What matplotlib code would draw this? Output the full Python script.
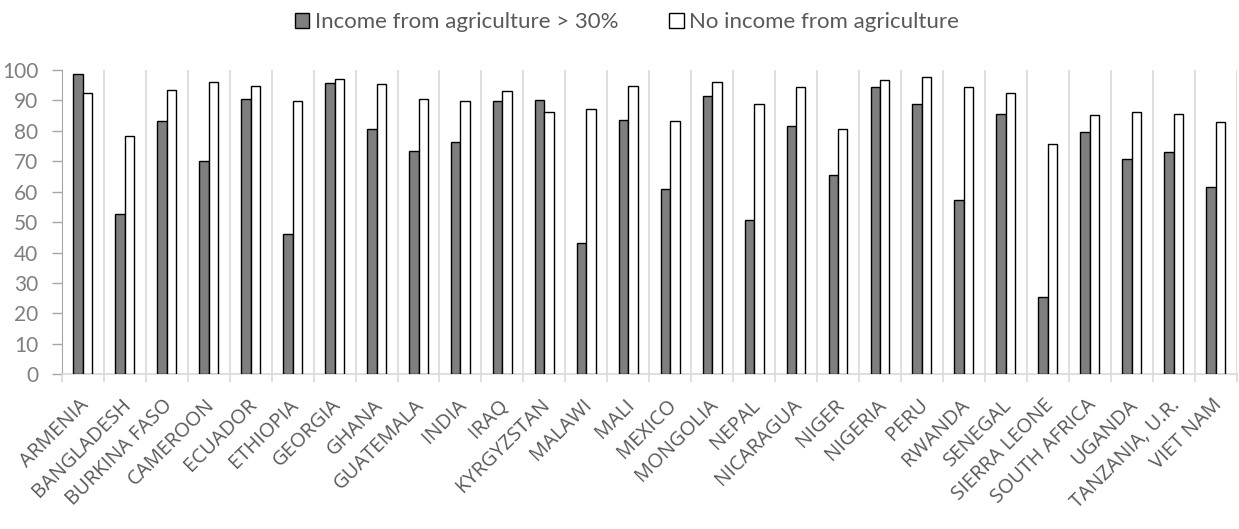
import numpy as np
import matplotlib
matplotlib.use('Agg')
import matplotlib.pyplot as plt
import matplotlib.transforms as mtransforms

plt.rcParams['font.family'] = ['Lato', 'DejaVu Sans']

countries = ['ARMENIA', 'BANGLADESH', 'BURKINA FASO', 'CAMEROON', 'ECUADOR', 'ETHIOPIA',
             'GEORGIA', 'GHANA', 'GUATEMALA', 'INDIA', 'IRAQ', 'KYRGYZSTAN', 'MALAWI',
             'MALI', 'MEXICO', 'MONGOLIA', 'NEPAL', 'NICARAGUA', 'NIGER', 'NIGERIA',
             'PERU', 'RWANDA', 'SENEGAL', 'SIERRA LEONE', 'SOUTH AFRICA', 'UGANDA',
             'TANZANIA, U.R.', 'VIET NAM']
agri_income = [98.7, 52.6, 83.3, 70.2, 90.5, 46.1, 95.6, 80.5, 73.4, 76.2, 89.7, 90.3, 43.3,
               83.5, 60.8, 91.5, 50.8, 81.7, 65.6, 94.5, 88.7, 57.4, 85.6, 25.3, 79.6, 70.8,
               73.2, 61.4]
no_agri_income = [92.4, 78.4, 93.4, 96.1, 94.9, 89.7, 97.1, 95.5, 90.5, 89.7, 93.1, 86.3, 87.3,
                  94.6, 83.1, 96.1, 88.8, 94.4, 80.6, 96.6, 97.7, 94.3, 92.3, 75.6, 85.3, 86.3,
                  85.6, 82.8]
legend_labels = ['Income from agriculture > 30%', 'No income from agriculture']

fig = plt.figure(figsize=(12.39, 5.29), dpi=100)
ax = fig.add_axes([0.050, 0.2924, 0.948, 0.5753])

x = np.arange(len(countries))
w = 0.225
ax.bar(x - w / 2, agri_income, w, color='#7f7f7f', edgecolor='black', linewidth=1.0,
       label=legend_labels[0], zorder=3)
ax.bar(x + w / 2, no_agri_income, w, color='white', edgecolor='black', linewidth=1.0,
       label=legend_labels[1], zorder=3)

ax.set_xlim(-0.5, len(countries) - 0.5)
ax.set_ylim(0, 100)
ax.set_yticks(np.arange(0, 101, 10))

# category labels at centres, gridlines/ticks at the boundaries
ax.set_xticks(x)
ax.set_xticklabels(countries, rotation=45, ha='right', va='top', rotation_mode='anchor',
                   fontsize=14.5, color='#595959', family=['Open Sans', 'DejaVu Sans'])
ax.tick_params(axis='x', which='major', length=0, pad=15)
shift = mtransforms.ScaledTranslation(-0.04, 0, fig.dpi_scale_trans)
for lab in ax.get_xticklabels():
    lab.set_transform(lab.get_transform() + shift)
ax.set_xticks(np.arange(-0.5, len(countries)), minor=True)
ax.tick_params(axis='x', which='minor', length=6, width=1.2, color='#d9d9d9')
ax.grid(axis='x', which='minor', color='#d9d9d9', linewidth=1.2, zorder=0)

ax.tick_params(axis='y', length=7, width=1, color='#a6a6a6', labelsize=15,
               labelcolor='#7f7f7f', pad=10)

for s in ['top', 'right']:
    ax.spines[s].set_visible(False)
ax.spines['left'].set_color('#a6a6a6')
ax.spines['bottom'].set_color('#d9d9d9')
ax.spines['bottom'].set_linewidth(1.2)

fig.legend(loc='center', bbox_to_anchor=(0.506, 0.958), ncol=2, frameon=False,
           fontsize=16, labelcolor='#595959', handlelength=0.65, handleheight=0.65,
           handletextpad=0.25, columnspacing=2.3)

plt.savefig('out.png', dpi=100)
